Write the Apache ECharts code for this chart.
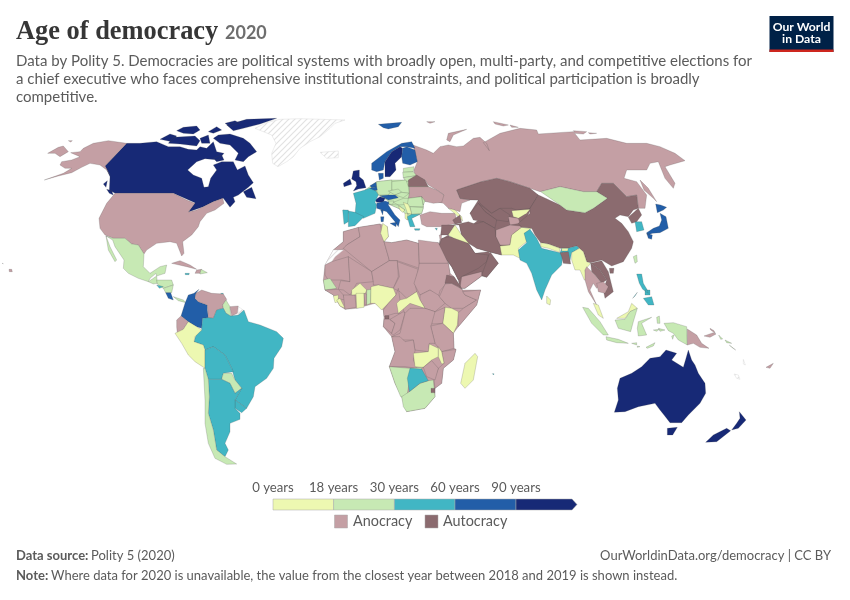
<!DOCTYPE html>
<html><head><meta charset="utf-8">
<style>html,body{margin:0;padding:0;background:#fff}#c{width:850px;height:600px}</style>
<script src="https://cdn.jsdelivr.net/npm/echarts@6/dist/echarts.min.js"></script>
</head><body><div id="c"></div>
<script>
// ---- values: countries per legend class ----
const legendYears = ['0 years','18 years','30 years','60 years','90 years'];
const age0to18 = ['Peru','Tunisia','Iraq','Georgia','Serbia','Bosnia','Albania','Kyrgyzstan','Pakistan','Nepal','Bhutan','Myanmar','Sri Lanka','Malaysia','Burkina Faso','Ghana','Nigeria','Sierra Leone','Liberia','Central African Republic','Kenya','Zambia','Malawi','Madagascar'];
const age18to30 = ['Europe mainland','Mexico','Guatemala','Honduras','Nicaragua','Panama','Dominican Republic','Guyana','Paraguay','Chile','Estonia','Latvia','Lithuania','Poland','Germany','Czechia','Slovakia','Hungary','Slovenia','Croatia','Romania','Moldova','Bulgaria','North Macedonia','Mongolia','Taiwan','Indonesia','Senegal','Benin','Namibia','South Africa','Solomon Islands'];
const age30to60 = ['El Salvador','Jamaica','Trinidad','Brazil','Bolivia','Uruguay','Argentina','France','Spain','Portugal','Greece','Cyprus','India','South Korea','Philippines','Botswana','Mauritius'];
const age60to90 = ['Costa Rica','Colombia','Norway','Finland','Denmark','Netherlands','Belgium','Austria','Italy','Japan'];
const age90plus = ['Canada','United Kingdom','Ireland','Sweden','Switzerland','Australia','New Zealand'];
const autocracies = ['Central Asia mainland','Arabian peninsula','Belarus','Kazakhstan','Uzbekistan','Turkmenistan','Azerbaijan','Iran','Saudi Arabia','Oman','Jordan','Syria','Bangladesh','China','North Korea','Laos','Vietnam','Eritrea','Equatorial Guinea','Eswatini'];
const noDataLands = ['Greenland','Iceland','Western Sahara','French Guiana','New Caledonia','Vanuatu'];
const bandColors = ['#edf8b1','#c7e9b4','#41b6c4','#225ea8','#172976'];
const anocracyColor = '#c49fa4', autocracyColor = '#8b6b6f';

// ---- land outlines in local sheets (origin, 3 units per px) ----
const sheets = {A:[0,110],B:[120,280],C:[320,115],D:[310,220],E:[420,120],F:[560,260]};
const outlines = {};
function land(name, sheet, ...rings){
  const o = sheets[sheet];
  outlines[name] = outlines[name] || [];
  rings.forEach(r=>{
    const ring=[]; for(let i=0;i<r.length;i+=2) ring.push([o[0]+r[i]/3, o[1]+r[i+1]/3]);
    ring.push(ring[0]); outlines[name].push([ring]);
  });
}
// coast-level land masses first, countries over them
land('Africa mainland','D',[100,35,150,22,210,12,232,20,235,50,222,65,245,68,290,60,325,70,385,68,415,130,420,160,432,170,458,210,512,210,500,255,445,320,430,340,432,385,438,388,430,420,400,445,395,490,375,505,375,530,345,565,290,575,275,530,255,490,238,440,255,395,245,350,220,320,222,290,220,270,195,250,140,265,105,268,90,258,70,225,45,210,40,180,45,135,70,90,100,65]);
land('Europe mainland','C',[135,225,170,200,215,195,258,195,290,180,325,215,372,240,365,262,310,258,310,278,305,295,275,310,262,315,255,295,235,280,208,268,205,258,175,240]);
land('Central Asia mainland','E',[110,210,185,185,355,225,305,322,270,375,245,405,170,385,125,345,118,315,160,312,175,300,150,280,175,240,120,235]);
land('Arabian peninsula','E',[60,360,90,350,145,370,165,400,205,395,235,430,200,472,185,468,135,505,120,505,115,480,95,440,55,385]);
// Russia next, neighbours over it
land('Russia','E',[-21,75,20,90,40,100,60,80,85,75,110,80,130,78,160,55,180,52,200,70,208,92,190,68,240,40,300,25,350,30,355,42,460,35,480,60,560,55,620,70,680,70,720,80,765,100,795,122,750,135,735,140,765,190,760,205,735,175,715,125,690,130,680,150,620,150,612,175,650,185,680,225,675,265,655,265,650,225,620,230,580,190,545,190,530,215,490,215,420,200,360,215,330,205,270,185,230,175,185,185,110,210,120,235,150,240,125,250,120,275,85,265,70,250,50,245,72,225,50,210,25,195,15,180,-15,170,-18,150,-8,125,-15,100],
 [80,60,85,40,140,28,100,45,90,65],[220,5,265,15,250,18,225,12],[270,15,295,22,275,22],[460,32,500,35,490,42,465,40],[505,38,530,40,510,42],[20,5,45,5,30,10],[660,180,685,205,710,245,700,235,672,210]);
land('Russia','A',[143,130,175,112,190,108,205,125,180,140,165,130],[205,92,217,92,212,96]);
land('Greenland','A',[765,55,800,38,840,28,900,26,1035,30,1005,40,990,55,960,80,930,95,900,115,880,140,860,155,834,170,818,160,815,130,828,100,815,75]);
land('Iceland','C',[0,112,55,108,55,128,20,130]);
// North America
land('Canada','A',[380,100,420,100,470,95,505,110,540,110,565,118,590,120,600,110,620,115,640,95,650,125,672,130,655,150,615,146,590,155,563,180,580,195,605,205,612,232,625,230,632,205,650,180,640,165,665,155,700,155,712,180,735,168,745,195,760,218,745,232,715,255,700,262,705,275,690,292,670,265,640,275,610,290,565,306,585,278,520,250,345,250,328,240,330,200,315,168],
 [730,245,755,232,768,266,740,262],
 [640,85,655,75,690,72,730,85,750,100,770,125,745,140,730,155,705,150,715,130,690,105,660,100],[680,45,740,28,830,25,780,42,730,55,700,62],[675,40,705,32,720,40,690,50],[480,88,510,72,530,78,515,95],[505,100,520,82,585,78,600,92,590,108,540,102],[530,62,550,52,590,48,600,60,580,72,550,70],[625,65,650,50,665,60,640,70],[600,85,625,75,630,100,605,100],[640,145,665,135,672,150,650,155],[310,222,322,212,318,232],[320,238,335,242,340,255,328,250]);
land('United States','A',[345,250,520,250,560,270,585,280,565,306,590,300,610,290,640,275,668,265,672,280,645,300,620,310,600,335,595,350,575,375,548,395,552,430,545,438,530,400,510,395,470,400,440,420,432,432,415,405,395,402,375,385,340,385,315,375,300,355,297,325,320,280,335,262],
 [380,100,325,92,280,100,250,115,240,125,212,128,240,140,215,150,185,155,180,165,195,175,215,175,190,190,133,210,175,198,215,188,245,172,270,160,300,165,320,180,330,195,315,168],[27,478,35,478,37,485,28,485],[6,460,10,461,12,464,7,463]);
land('Mexico','A',[318,378,340,385,375,385,395,402,415,405,432,432,430,470,450,490,480,470,500,465,495,490,470,498,468,490,450,505,445,515,415,505,385,490,370,475,372,450,345,410,338,390],[318,378,330,410,350,450,345,455,325,420]);
land('Guatemala','A',[445,515,470,498,472,520,460,522]);
land('Honduras','A',[470,510,515,510,520,525,490,535,472,522]);
land('El Salvador','A',[470,525,490,530,478,535]);
land('Nicaragua','A',[490,535,520,525,515,548,497,548]);
land('Costa Rica','A',[497,548,512,548,520,570,505,565]);
land('Panama','A',[520,560,550,570,558,578,535,572]);
land('Cuba','A',[515,460,540,452,570,465,590,478,560,470]);
land('Haiti','A',[590,480,605,478,600,490,585,490]);
land('Dominican Republic','A',[603,478,622,488,600,492]);
land('Jamaica','A',[555,490,568,490,567,494,556,494]);
land('Trinidad','A',[662,550,670,550,668,556]);
// South America
land('Colombia','B',[237,28,222,40,205,45,195,70,183,108,205,125,230,140,245,145,248,115,265,113,262,90,262,75,235,65,225,55,228,40]);
land('Venezuela','B',[228,40,245,30,275,40,310,42,320,58,308,75,310,85,290,90,280,115,265,113,262,75,235,65,225,55]);
land('Guyana','B',[318,60,330,80,332,108,318,100,310,85,308,75]);
land('Suriname','B',[330,80,355,78,352,100,335,108]);
land('French Guiana','B',[355,80,370,90,355,105]);
land('Brazil','B',[248,115,265,113,280,115,290,90,310,85,318,100,332,108,355,105,372,90,385,125,420,135,470,155,490,175,485,200,462,235,460,265,440,295,405,320,400,350,380,385,345,360,365,325,345,300,335,265,315,225,280,200,255,210,250,195,222,185,228,165,245,150,245,145]);
land('Ecuador','B',[183,108,205,125,190,148,172,162,170,140,170,120]);
land('Peru','B',[205,125,230,140,245,150,225,170,222,185,250,195,255,210,255,265,225,245,205,225,185,190,165,160,190,148]);
land('Bolivia','B',[255,210,280,200,315,225,335,265,340,275,310,280,305,298,265,298,255,265]);
land('Paraguay','B',[310,280,335,280,345,300,365,325,345,340,330,310,305,298]);
land('Uruguay','B',[345,360,380,385,365,398,345,385]);
land('Argentina','B',[265,298,305,298,330,310,345,340,365,325,345,360,345,385,360,400,360,418,330,430,330,455,315,490,325,510,315,530,290,510,280,450,265,400,268,350]);
land('Chile','B',[250,265,255,265,265,298,268,350,265,400,280,450,290,510,315,530,350,552,320,553,285,535,265,490,255,430,255,360]);
// Europe
land('Norway','C',[155,165,155,145,200,110,245,85,275,80,285,100,260,95,240,95,215,110,195,140,190,165,170,170],[175,28,245,22,235,35,205,42,190,38]);
land('Sweden','C',[195,185,195,140,215,110,240,95,248,100,245,125,225,145,228,165,210,185]);
land('Finland','C',[248,100,260,95,285,105,292,140,270,150,248,145,245,125]);
land('Denmark','C',[175,175,190,175,190,190,178,195]);
land('United Kingdom','C',[100,168,118,165,118,185,130,195,138,218,115,222,100,228,110,212,108,200,95,192]);
land('Ireland','C',[70,205,90,192,95,208,72,215]);
land('Estonia','C',[250,160,282,155,280,170,250,172]);
land('Latvia','C',[248,172,280,170,290,182,250,188]);
land('Lithuania','C',[250,188,290,182,285,198,258,200]);
land('Belarus','C',[265,195,290,180,315,195,325,215,265,215]);
land('Poland','C',[215,200,258,195,265,215,268,235,245,232,215,225]);
land('Germany','C',[170,200,215,195,215,225,205,240,175,240,168,220]);
land('Netherlands','C',[150,212,168,202,170,215,155,218]);
land('Belgium','C',[148,220,155,218,170,215,172,225,162,228]);
land('Czechia','C',[205,228,235,222,245,232,225,240]);
land('Slovakia','C',[225,240,245,232,268,235,250,248]);
land('Austria','C',[180,242,205,240,225,240,235,248,205,255]);
land('Switzerland','C',[165,255,180,245,195,250,190,262,170,262]);
land('France','C',[100,235,135,225,148,220,168,228,175,240,165,262,170,270,165,295,130,310,105,298,108,265]);
land('Spain','C',[70,285,105,292,132,305,125,312,105,332,85,335,85,295]);
land('Portugal','C',[68,285,85,285,85,320,72,328]);
land('Italy','C',[170,265,195,258,208,262,205,270,225,300,240,315,235,335,225,320,200,290,170,280],[210,325,230,322,228,335],[182,305,192,305,190,320,183,320],[182,285,190,285,188,300]);
land('Hungary','C',[220,262,250,250,275,250,262,268,235,270]);
land('Slovenia','C',[205,258,222,258,218,268,208,268]);
land('Croatia','C',[208,268,235,270,255,285,235,280]);
land('Ukraine','C',[268,215,325,215,350,225,372,240,365,262,340,265,310,258,305,245,265,250,268,235]);
land('Romania','C',[265,250,305,245,310,275,270,275,262,268]);
land('Moldova','C',[305,245,315,258,310,270]);
land('Bulgaria','C',[270,275,310,278,305,295,275,298]);
land('Serbia','C',[250,262,265,268,270,280,275,298,262,295,258,282]);
land('Bosnia','C',[235,272,255,285,248,292,240,285]);
land('Albania','C',[255,295,262,295,262,315,255,310]);
land('North Macedonia','C',[262,295,275,298,270,305]);
land('Greece','C',[262,305,275,298,300,298,275,310,285,335,270,335]);
land('Turkey','C',[300,300,330,290,365,295,405,295,412,325,360,335,320,335,305,328]);
land('Cyprus','C',[283,341,300,341,298,346,285,346],[345,340,352,340,350,346]);
// Asia
land('Georgia','C',[385,280,405,285,425,305,428,318,400,292]);
land('Kazakhstan','E',[110,210,185,185,230,175,270,185,330,205,355,225,330,265,290,270,275,265,240,265,215,280,180,250,175,240,150,240,120,235]);
land('Uzbekistan','E',[175,250,215,280,240,265,270,285,265,305,230,300,195,275]);
land('Turkmenistan','E',[150,280,175,250,195,275,230,300,225,325,190,305,160,300]);
land('Kyrgyzstan','E',[275,272,330,268,320,280,295,295,280,290]);
land('Tajikistan','E',[265,290,295,295,300,310,270,315]);
land('Azerbaijan','E',[98,300,120,285,125,308,105,312]);
land('Iran','E',[100,315,125,310,145,305,165,312,190,305,225,325,228,350,245,385,245,405,205,395,170,385,145,370,125,345,118,315]);
land('Afghanistan','E',[228,330,270,315,300,318,305,322,275,345,270,375,240,375,228,350]);
land('Pakistan','E',[245,405,240,378,270,375,275,345,305,322,335,325,315,340,320,365,295,385,300,415,280,405]);
land('China','E',[330,265,355,225,362,228,420,255,440,270,495,278,520,265,562,235,530,215,545,190,580,190,620,230,650,225,655,265,640,270,625,290,600,285,585,295,605,310,625,335,640,365,635,385,610,425,575,438,545,420,512,428,500,425,490,395,478,385,470,378,445,385,420,385,385,372,362,368,345,345,335,325,305,322,295,310,330,280],[568,445,582,445,580,460,570,460]);
land('India','E',[312,340,330,328,350,355,365,385,420,398,425,385,445,385,470,378,478,385,455,398,448,430,430,395,425,435,395,465,375,510,365,540,350,510,335,460,320,430,300,420,295,390,320,368]);
land('Nepal','E',[362,368,385,372,420,385,418,397,385,385,362,380]);
land('Bhutan','E',[425,385,445,385,443,393,425,393]);
land('Bangladesh','E',[420,398,445,395,452,432,430,430,425,410]);
land('Myanmar','E',[478,385,490,395,500,425,512,430,495,450,500,480,493,480,480,450,465,450,455,420,455,398]);
land('Mongolia','E',[362,215,420,200,490,215,530,215,562,235,520,265,495,278,440,270,420,255]);
land('North Korea','E',[625,292,655,265,665,285,650,305,635,310]);
land('South Korea','E',[645,305,665,305,672,330,650,335]);
land('Japan','E',[707,252,722,255,740,262,730,270,712,278],[720,280,738,290,745,325,720,338,698,340,682,345,680,338,700,325,718,318,725,300],[680,340,697,345,695,358,685,355]);
land('Taiwan','E',[640,410,650,405,652,425,645,430]);
land('Vietnam','E',[512,430,545,422,565,455,580,515,555,535,550,510,560,480,540,450]);
land('Laos','E',[512,430,540,450,560,480,545,490,525,465,515,455]);
land('Thailand','E',[500,440,515,455,525,465,545,490,530,505,520,490,510,510,530,555,505,515,495,480,495,450]);
land('Cambodia','E',[530,490,550,485,565,500,555,520,535,515]);
land('Sri Lanka','E',[380,528,392,540,390,555,380,550]);
land('Syria','E',[65,315,105,315,85,345,62,345]);
land('Iraq','E',[85,345,105,315,125,345,148,372,130,378,100,355]);
land('Jordan','E',[60,360,85,345,95,360,70,375]);
land('Israel','E',[58,345,65,345,62,375]);
land('Saudi Arabia','E',[65,355,90,350,145,370,165,400,205,405,200,425,175,445,125,470,115,480,95,440,55,385]);
land('Oman','E',[210,395,235,430,200,472,185,465,200,425]);
land('Yemen','E',[125,470,185,455,185,468,135,505,120,505]);
// Africa
land('Morocco','D',[100,35,145,22,150,50,110,75,100,88,70,90,100,65]);
land('Western Sahara','D',[45,135,70,90,100,90,75,110,65,125]);
land('Algeria','D',[145,22,210,12,222,65,235,110,238,122,185,155,100,85,110,75,150,50]);
land('Tunisia','D',[218,10,232,20,235,50,222,65,212,40]);
land('Libya','D',[222,65,245,68,290,60,325,70,328,145,262,122,238,122,235,110]);
land('Egypt','D',[325,60,385,68,415,130,328,130]);
land('Mauritania','D',[45,135,65,125,115,110,120,185,95,180,55,180,45,165]);
land('Mali','D',[115,110,185,155,190,185,140,190,120,225,100,210,85,208,92,182,120,185]);
land('Niger','D',[185,155,238,122,262,122,265,170,250,205,205,195,190,195,190,185]);
land('Chad','D',[262,125,325,148,315,190,320,215,290,235,270,215,250,205,268,170]);
land('Sudan','D',[328,130,415,130,420,160,405,195,390,212,385,230,360,210,330,225,312,190,325,148]);
land('South Sudan','D',[330,225,360,210,385,225,405,250,375,275,345,265,330,240]);
land('Ethiopia','D',[405,192,425,190,455,207,465,225,500,240,460,265,425,265,405,250,388,230]);
land('Eritrea','D',[410,165,432,170,455,205,425,190,405,190]);
land('Somalia','D',[458,215,512,210,500,255,445,320,443,280,460,265,500,240,465,225]);
land('Kenya','D',[405,262,425,265,445,275,442,315,430,340,398,310]);
land('Uganda','D',[365,280,405,262,398,310,365,312]);
land('Tanzania','D',[362,318,398,310,430,340,432,385,395,395,375,370]);
land('Senegal','D',[40,180,60,175,80,205,45,210]);
land('Guinea','D',[45,210,85,208,100,225,105,240,80,235,70,225]);
land('Sierra Leone','D',[70,228,85,225,85,245,75,248]);
land('Liberia','D',[80,240,90,235,105,265,90,258]);
land('Ivory Coast','D',[100,225,135,225,138,262,105,268]);
land('Burkina Faso','D',[125,210,150,190,170,210,165,222,125,225]);
land('Ghana','D',[138,220,162,220,162,262,140,265]);
land('Togo','D',[162,220,170,222,170,255,165,255]);
land('Benin','D',[170,210,183,208,182,250,170,255]);
land('Nigeria','D',[183,200,205,195,250,205,258,225,235,250,215,270,195,250,182,250]);
land('Cameroon','D',[258,225,265,205,270,240,280,270,285,280,255,280,222,290,220,270,235,250]);
land('Equatorial Guinea','D',[225,287,237,287,237,297,225,297]);
land('Gabon','D',[222,298,238,298,255,310,245,340,220,320]);
land('Congo','D',[240,298,280,275,285,280,270,330,250,345,245,340,255,310]);
land('Central African Republic','D',[270,240,290,235,320,215,330,240,345,265,300,250,265,280,260,250]);
land('DR Congo','D',[285,280,300,265,345,265,375,275,365,312,362,318,375,370,358,370,355,395,315,390,310,360,270,360,245,350,270,340]);
land('Angola','D',[245,350,270,350,285,365,310,360,315,392,310,420,320,445,285,440,238,440,255,395]);
land('Mozambique','D',[395,395,438,388,430,420,400,445,395,490,375,505,372,480,385,445,402,430]);
land('Zambia','D',[310,400,355,395,358,372,385,385,385,410,365,420,340,442,315,440]);
land('Malawi','D',[385,380,395,395,402,430,395,432,385,410]);
land('Zimbabwe','D',[340,442,365,422,385,445,375,480,350,470]);
land('Namibia','D',[238,440,300,445,340,442,300,470,290,535,272,530,255,490]);
land('South Africa','D',[275,530,298,515,330,490,355,482,370,480,375,530,345,565,290,575,280,560]);
land('Botswana','D',[300,445,335,447,355,482,330,490,298,515,292,475]);
land('Eswatini','D',[363,505,375,505,375,518,363,518]);
land('Madagascar','D',[495,400,503,410,490,480,465,505,452,490,465,430]);
land('Mauritius','D',[547,461,552,461,551,465]);
// Oceania and South-East Asia
land('Philippines','F',[230,42,245,42,250,70,262,90,265,100,248,88,238,70],[250,115,275,110,282,135,265,135],[218,115,232,97,225,108],[255,90,270,90,270,105,255,105]);
land('Malaysia','F',[100,130,115,135,130,175,115,165],[170,175,205,155,215,130,232,145,210,155,195,175]);
land('Indonesia','F',[68,142,85,145,120,185,145,225,130,225,95,190],[165,180,195,178,210,155,232,145,220,185,212,215,175,205],[138,230,175,238,205,250,170,248,140,240],[235,185,275,172,245,190,260,225,235,228,232,205],[290,172,298,168,300,190,292,190],[312,190,340,188,380,200,382,255,355,240,340,220,325,212],[215,250,230,248,230,255],[232,258,240,260,232,262],[258,262,285,248,280,258,262,265],[280,210,298,208,290,214],[295,205,315,210,300,214],[335,228,342,225,338,238]);
land('Papua New Guinea','F',[382,207,410,225,425,250,447,265,420,262,400,250,382,255],[432,228,460,218,468,222,450,232],[450,205,462,212,466,220,452,210]);
land('Solomon Islands','F',[476,225,488,237,482,238],[495,240,515,250,500,248],[508,255,527,270,515,262]);
land('Fiji','F',[618,322,640,310,630,325]);
land('New Caledonia','F',[522,342,535,345,540,358,530,355]);
land('Vanuatu','F',[550,298,556,315,550,312]);
land('Australia','F',[385,270,395,300,405,315,415,340,435,370,437,400,420,430,385,465,365,488,330,488,312,465,300,450,285,430,235,440,195,455,163,457,175,420,172,385,180,355,215,340,245,320,270,295,300,290,318,270,350,280,335,300,370,322,378,295],[322,505,352,502,338,525,322,525]);
land('New Zealand','F',[538,455,558,480,535,505,515,510,530,490,540,475],[500,505,512,512,470,545,437,547,460,525]);

// ---- build map ----
const worldGeo = {type:'FeatureCollection',features:Object.keys(outlines).map(n=>({type:'Feature',properties:{name:n},geometry:{type:'MultiPolygon',coordinates:outlines[n]}}))};
echarts.registerMap('owid', worldGeo);

const hatch = document.createElement('canvas'); hatch.width=hatch.height=6;
(function(){const g=hatch.getContext('2d');g.fillStyle='#fff';g.fillRect(0,0,6,6);g.strokeStyle='#e2e2e2';g.lineWidth=1.2;
 g.beginPath();g.moveTo(-1,1);g.lineTo(1,-1);g.moveTo(0,6);g.lineTo(6,0);g.moveTo(5,7);g.lineTo(7,5);g.stroke();})();

const bins = [age0to18,age18to30,age30to60,age60to90,age90plus];
function classOf(n){
  if(noDataLands.includes(n)) return {label:'No data',itemStyle:{areaColor:{image:hatch,repeat:'repeat'},borderColor:'#dcdcdc'}};
  for(let i=0;i<bins.length;i++) if(bins[i].includes(n)) return {label:legendYears[i],itemStyle:{areaColor:bandColors[i]}};
  if(autocracies.includes(n)) return {label:'Autocracy',itemStyle:{areaColor:autocracyColor}};
  return {label:'Anocracy',itemStyle:{areaColor:anocracyColor}};
}
const mapData = Object.keys(outlines).map(n=>{const c=classOf(n);return {name:n,value:c.label,itemStyle:c.itemStyle};});

// ---- page furniture ----
const txt='#5b5b5b', LATO='Lato, sans-serif';
function T(text,x,y,size,opt={}){return {type:'text',silent:true,x,y,style:{text,fill:opt.fill||txt,font:(opt.weight||'normal')+' '+size+'px '+(opt.family||LATO),textAlign:opt.align||'left',textVerticalAlign:'middle'}};}
const barX=[273,333.6,394.4,455,516];
const g=[
 T('Age of democracy',16,32,26.4,{weight:'bold',family:'"Liberation Serif", serif',fill:'#363636'}),
 T('2020',225,33,18,{weight:'bold',fill:'#6e6e6e'}),
 T('Data by Polity 5. Democracies are political systems with broadly open, multi-party, and competitive elections for',16,61,15),
 T('a chief executive who faces comprehensive institutional constraints, and political participation is broadly',16,79,15),
 T('competitive.',16,97,15),
 {type:'rect',silent:true,shape:{x:769.5,y:16,width:64,height:36},style:{fill:'#002147'}},
 {type:'rect',silent:true,shape:{x:769.5,y:49.5,width:64,height:2.5},style:{fill:'#ce261e'}},
 T('Our World',801.5,27,12.2,{weight:'bold',fill:'#fff',align:'center'}),
 T('in Data',801.5,39,12.2,{weight:'bold',fill:'#fff',align:'center'}),
 T('Data source:',16,556,13,{weight:'bold'}),
 T('Polity 5 (2020)',91,556,13),
 T('OurWorldinData.org/democracy | CC BY',831,556,13,{align:'right'}),
 T('Note:',16,576,13,{weight:'bold'}),
 T('Where data for 2020 is unavailable, the value from the closest year between 2018 and 2019 is shown instead.',51,576,13)
];
legendYears.forEach((l,i)=>g.push(T(l,barX[i],488,13.2,{align:'center'})));
for(let i=0;i<4;i++) g.push({type:'rect',silent:true,shape:{x:barX[i],y:499,width:barX[i+1]-barX[i],height:11},style:{fill:bandColors[i],stroke:'#a8a8a8',lineWidth:.5}});
g.push({type:'polygon',silent:true,shape:{points:[[516,499],[572,499],[577,504.5],[572,510],[516,510]]},style:{fill:bandColors[4],stroke:'#a8a8a8',lineWidth:.5}});
g.push({type:'rect',silent:true,shape:{x:334.5,y:515,width:13,height:13},style:{fill:anocracyColor,stroke:'#a8a8a8',lineWidth:.5}});
g.push(T('Anocracy',353,521.5,14.4));
g.push({type:'rect',silent:true,shape:{x:425,y:515,width:13,height:13},style:{fill:autocracyColor,stroke:'#a8a8a8',lineWidth:.5}});
g.push(T('Autocracy',443,521.5,14.4));

const chart = echarts.init(document.getElementById('c'),null,{renderer:'canvas'});
chart.setOption({
 animation:false,backgroundColor:'#fff',
 series:[{type:'map',map:'owid',left:0,top:0,width:850,height:600,
  boundingCoords:[[0,0],[850,600]],
  projection:{project:p=>[p[0],p[1]],unproject:p=>[p[0],p[1]]},
  roam:false,silent:true,selectedMode:false,
  label:{show:false},emphasis:{disabled:true},
  itemStyle:{borderColor:'rgba(70,70,70,0.4)',borderWidth:0.5},
  data:mapData}],
 graphic:g
});
</script></body></html>
